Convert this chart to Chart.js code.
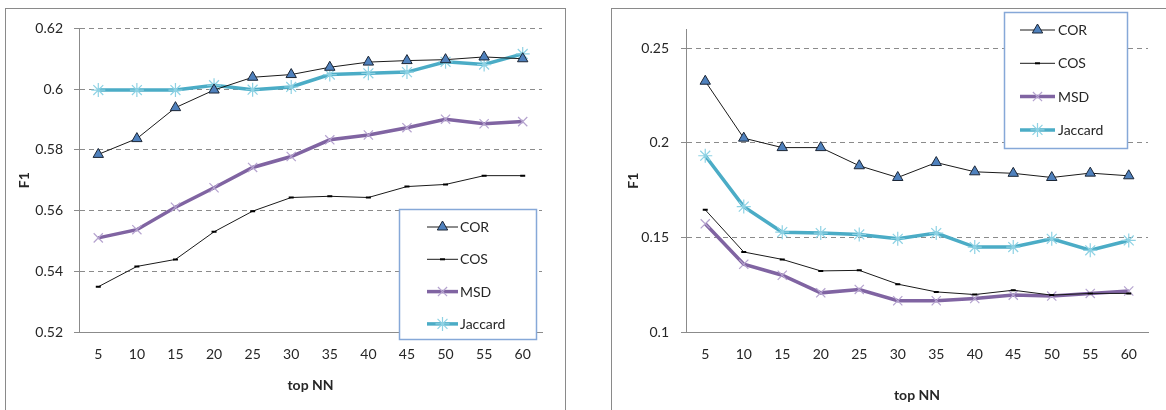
<!DOCTYPE html>
<html><head><meta charset="utf-8">
<script src="https://cdn.jsdelivr.net/npm/chart.js@4.4.1/dist/chart.umd.min.js"></script>
<style>
html,body{margin:0;padding:0;background:#fff;width:1166px;height:410px;overflow:hidden;}
.frame{position:absolute;border:1px solid #8a8a8a;box-sizing:border-box;}
#f1{left:5px;top:8px;width:561px;height:430px;}
#f2{left:611px;top:8px;width:620px;height:430px;}
canvas{position:absolute;}
#c1{left:5px;top:9px;}
#c2{left:612px;top:9px;}
</style></head>
<body>
<div class="frame" id="f1"></div>
<div class="frame" id="f2"></div>
<canvas id="c1" width="560" height="401"></canvas>
<canvas id="c2" width="554" height="401"></canvas>
<script>
// ---- data ----
const topNN = ['5','10','15','20','25','30','35','40','45','50','55','60'];
const seriesNames = ['COR','COS','MSD','Jaccard'];

const corLeft = [0.5785,0.5837,0.5939,0.5997,0.6039,0.6048,0.6072,0.6089,0.6094,0.6097,0.6106,0.6100];
const cosLeft = [0.5349,0.5416,0.5439,0.5530,0.5598,0.5643,0.5647,0.5643,0.5679,0.5686,0.5715,0.5715];
const msdLeft = [0.5510,0.5537,0.5611,0.5675,0.5742,0.5778,0.5833,0.5849,0.5873,0.5901,0.5886,0.5893];
const jacLeft = [0.5997,0.5997,0.5997,0.6013,0.5998,0.6007,0.6048,0.6052,0.6056,0.6090,0.6081,0.6116];

const corRight = [0.2326,0.2025,0.1975,0.1975,0.1879,0.1817,0.1896,0.1847,0.1839,0.1817,0.1840,0.1826];
const cosRight = [0.1646,0.1423,0.1384,0.1323,0.1326,0.1253,0.1212,0.1198,0.1221,0.1195,0.1204,0.1204];
const msdRight = [0.1572,0.1358,0.1300,0.1207,0.1225,0.1165,0.1165,0.1177,0.1195,0.1190,0.1204,0.1217];
const jacRight = [0.1932,0.1663,0.1528,0.1523,0.1516,0.1493,0.1523,0.1449,0.1449,0.1493,0.1432,0.1484];

const leftAxis = {min:0.52, max:0.62, step:0.02, lastTick:0.62};
const rightAxis = {min:0.10, max:0.26, step:0.05, lastTick:0.25};

// ---- styling ----
const FONT = 'Lato, "Liberation Sans", sans-serif';
const GRID = '#8b8b8b';
const TEXT = '#262626';

function makeDatasets(cor, cos, msd, jac){
  return [
    {label:seriesNames[0], data:cor, borderColor:'#1a1a1a', borderWidth:1,
     pointStyle:'triangle', pointRadius:6, pointBackgroundColor:'#4f81bd',
     pointBorderColor:'#1c2636', pointBorderWidth:1, tension:0},
    {label:seriesNames[1], data:cos, borderColor:'#1a1a1a', borderWidth:1,
     pointStyle:'line', pointRadius:2.5, pointBackgroundColor:'#000',
     pointBorderColor:'#000', pointBorderWidth:2, tension:0},
    {label:seriesNames[2], data:msd, borderColor:'#8064a2', borderWidth:3.5,
     pointStyle:'crossRot', pointRadius:6.5, pointBackgroundColor:'#b5a3cf',
     pointBorderColor:'#b5a3cf', pointBorderWidth:1.2, tension:0},
    {label:seriesNames[3], data:jac, borderColor:'#4bacc6', borderWidth:3.5,
     pointStyle:'star', pointRadius:7, pointBackgroundColor:'#8ed2e4',
     pointBorderColor:'#8ed2e4', pointBorderWidth:1.2, tension:0}
  ];
}

const boxLegend = {
  id:'boxLegend',
  afterDraw(chart, args, o){
    const ctx = chart.ctx;
    ctx.save();
    ctx.setLineDash([]);
    ctx.fillStyle = '#fff';
    ctx.fillRect(o.x, o.y, o.w, o.h);
    ctx.strokeStyle = '#86a8d8';
    ctx.lineWidth = 1.5;
    ctx.strokeRect(o.x + 0.5, o.y + 0.5, o.w, o.h);
    ctx.font = '14px ' + FONT;
    ctx.textBaseline = 'middle';
    ctx.textAlign = 'left';
    chart.data.datasets.forEach((ds, i) => {
      const y = o.y + o.firstRow + i * o.rowGap;
      const x0 = o.x + o.lineX, x1 = x0 + o.lineLen;
      ctx.strokeStyle = ds.borderColor;
      ctx.lineWidth = ds.borderWidth;
      ctx.beginPath(); ctx.moveTo(x0, y); ctx.lineTo(x1, y); ctx.stroke();
      ctx.fillStyle = ds.pointBackgroundColor;
      ctx.strokeStyle = ds.pointBorderColor;
      ctx.lineWidth = ds.pointBorderWidth;
      Chart.helpers.drawPoint(ctx, {pointStyle:ds.pointStyle, radius:ds.pointRadius, borderWidth:ds.pointBorderWidth, rotation:0}, (x0 + x1) / 2, y);
      ctx.fillStyle = TEXT;
      ctx.fillText(ds.label, x1 + o.textGap, y + 0.5);
    });
    ctx.restore();
  }
};

function makeChart(id, datasets, ax, opt){
  return new Chart(document.getElementById(id), {
    type:'line',
    data:{labels:topNN, datasets:datasets},
    plugins:[boxLegend],
    options:{
      responsive:false, animation:false, devicePixelRatio:1,
      layout:{padding:{left:0, top:opt.padTop, right:opt.padRight, bottom:0}},
      plugins:{legend:{display:false}, tooltip:{enabled:false}, boxLegend:opt.legend},
      elements:{line:{fill:false}},
      scales:{
        x:{
          type:'category', offset:true,
          grid:{display:false, drawTicks:false},
          border:{display:true, color:GRID, width:1},
          ticks:{color:TEXT, font:{family:FONT, size:14}, padding:14, maxRotation:0, autoSkip:false},
          title:{display:true, text:'top NN', color:TEXT, font:{family:FONT, size:14, weight:'bold'}, padding:{top:0, bottom:opt.xTitlePad}},
          afterFit(s){ s.height = 78; }
        },
        y:{
          min:ax.min, max:ax.max,
          grid:{color:GRID, lineWidth:1, drawTicks:true, tickLength:5, tickColor:GRID, tickBorderDash:[]},
          border:{display:true, color:GRID, width:1, dash:[5,4]},
          ticks:{stepSize:ax.step, color:TEXT, font:{family:FONT, size:14}, padding:opt.yTickPad,
                 callback:(v) => String(+v.toFixed(2))},
          afterBuildTicks(s){ s.ticks = s.ticks.filter(t => t.value <= ax.lastTick + 1e-9); },
          title:{display:true, text:'F1', color:TEXT, font:{family:FONT, size:14, weight:'bold'}, padding:{top:opt.yTitlePad, bottom:0}},
          afterFit(s){ s.width = 74; }
        }
      }
    }
  });
}

makeChart('c1', makeDatasets(corLeft, cosLeft, msdLeft, jacLeft), leftAxis, {
  padTop:18, padRight:23, xTitlePad:16.6, yTitlePad:10.6, yTickPad:11,
  legend:{x:394, y:200, w:137, h:130, firstRow:18, rowGap:32.3, lineX:28, lineLen:31, textGap:2}
});
makeChart('c2', makeDatasets(corRight, cosRight, msdRight, jacRight), rightAxis, {
  padTop:19, padRight:18, xTitlePad:6.6, yTitlePad:12.6, yTickPad:12,
  legend:{x:392, y:3, w:123, h:136, firstRow:18, rowGap:33.3, lineX:16, lineLen:35, textGap:3}
});
</script>
</body></html>
